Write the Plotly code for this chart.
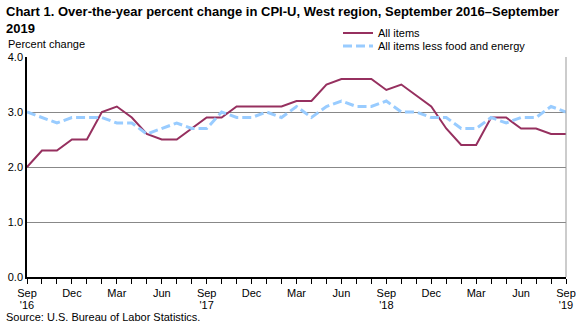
import plotly.graph_objects as go

months = ["Sep '16","Oct","Nov","Dec","Jan '17","Feb","Mar","Apr","May","Jun","Jul","Aug",
          "Sep '17","Oct","Nov","Dec","Jan '18","Feb","Mar","Apr","May","Jun","Jul","Aug",
          "Sep '18","Oct","Nov","Dec","Jan '19","Feb","Mar","Apr","May","Jun","Jul","Aug","Sep '19"]
all_items = [2.0,2.3,2.3,2.5,2.5,3.0,3.1,2.9,2.6,2.5,2.5,2.7,
             2.9,2.9,3.1,3.1,3.1,3.1,3.2,3.2,3.5,3.6,3.6,3.6,
             3.4,3.5,3.3,3.1,2.7,2.4,2.4,2.9,2.9,2.7,2.7,2.6,2.6]
core_items = [3.0,2.9,2.8,2.9,2.9,2.9,2.8,2.8,2.6,2.7,2.8,2.7,
              2.7,3.0,2.9,2.9,3.0,2.9,3.1,2.9,3.1,3.2,3.1,3.1,
              3.2,3.0,3.0,2.9,2.9,2.7,2.7,2.9,2.8,2.9,2.9,3.1,3.0]
month_labels = ["Sep","Dec","Mar","Jun","Sep","Dec","Mar","Jun","Sep","Dec","Mar","Jun","Sep"]
year_labels = ["'16", "'17", "'18", "'19"]
y_ticks = [0.0, 1.0, 2.0, 3.0, 4.0]

x = list(range(len(months)))
year_x = x[::12]
FONT = "Liberation Sans, Arial, sans-serif"

fig = go.Figure()
fig.add_trace(go.Scatter(x=x, y=all_items, mode="lines", name="All items",
                         line=dict(color="#96305F", width=2), legend="legend"))
fig.add_trace(go.Scatter(x=x, y=core_items, mode="lines", name="All items less food and energy",
                         line=dict(color="#99CCFF", width=3, dash="9px,4px"), legend="legend2"))
# carrier for the second (year) row of x tick labels
fig.add_trace(go.Scatter(x=year_x, y=[None] * len(year_x), xaxis="x2", mode="lines",
                         showlegend=False, hoverinfo="skip"))

W, H = 583, 326
L, R, T, B = 27, 17, 57, 49
pw, ph = W - L - R, H - T - B

def px(xp):
    return (xp - L) / pw

def py(yp):
    return (H - B - yp) / ph

fig.update_layout(
    width=W, height=H,
    margin=dict(l=L, r=R, t=T, b=B, autoexpand=False),
    paper_bgcolor="white", plot_bgcolor="white",
    font=dict(family=FONT, size=11, color="black"),
    showlegend=True,
    legend=dict(x=px(338), y=py(33), xanchor="left", yanchor="middle",
                bgcolor="rgba(0,0,0,0)", font=dict(size=11), itemwidth=30,
                tracegroupgap=0),
    legend2=dict(x=px(338), y=py(46), xanchor="left", yanchor="middle",
                 bgcolor="rgba(0,0,0,0)", font=dict(size=11), itemwidth=30,
                 tracegroupgap=0),
    xaxis=dict(range=[0, len(months) - 1], tickmode="array",
               tickvals=x[::3], ticktext=month_labels, automargin=False,
               ticks="outside", ticklen=5, tickcolor="black", tickwidth=1,
               showline=True, linecolor="black", linewidth=1.5,
               showgrid=False, zeroline=False,
               minor=dict(ticks="outside", tickvals=x, ticklen=5, tickcolor="black"),
               tickfont=dict(size=11)),
    xaxis2=dict(range=[0, len(months) - 1], overlaying="x", side="bottom",
                anchor="y",
                tickmode="array", tickvals=year_x, ticktext=year_labels,
                automargin=False, ticks="", showline=False, showgrid=False,
                zeroline=False, ticklabelstandoff=20, tickfont=dict(size=11)),
    yaxis=dict(range=[0, 4], tickmode="array", tickvals=y_ticks, automargin=False,
               tickformat=".1f", ticks="", showline=True, linecolor="black",
               linewidth=1.5, showgrid=True, gridcolor="#888888", gridwidth=1,
               zeroline=False, tickfont=dict(size=11)),
    shapes=[dict(type="line", xref="paper", yref="paper", x0=1, x1=1, y0=0, y1=1,
                 line=dict(color="#999999", width=1))],
    annotations=[
        dict(text="<b>Chart 1. Over-the-year percent change in CPI-U, West region, September 2016\u2013September<br>2019</b>",
             xref="paper", yref="paper", x=px(4), y=py(2), xanchor="left", yanchor="top",
             align="left", showarrow=False, font=dict(size=13, family=FONT)),
        dict(text="Percent change", xref="paper", yref="paper", x=px(6), y=py(44),
             xanchor="left", yanchor="middle", showarrow=False, font=dict(size=11)),
        dict(text="Source: U.S. Bureau of Labor Statistics.", xref="paper", yref="paper",
             x=px(4), y=py(317), xanchor="left", yanchor="middle", showarrow=False,
             font=dict(size=11)),
    ],
)

fig.write_html("out.html")
